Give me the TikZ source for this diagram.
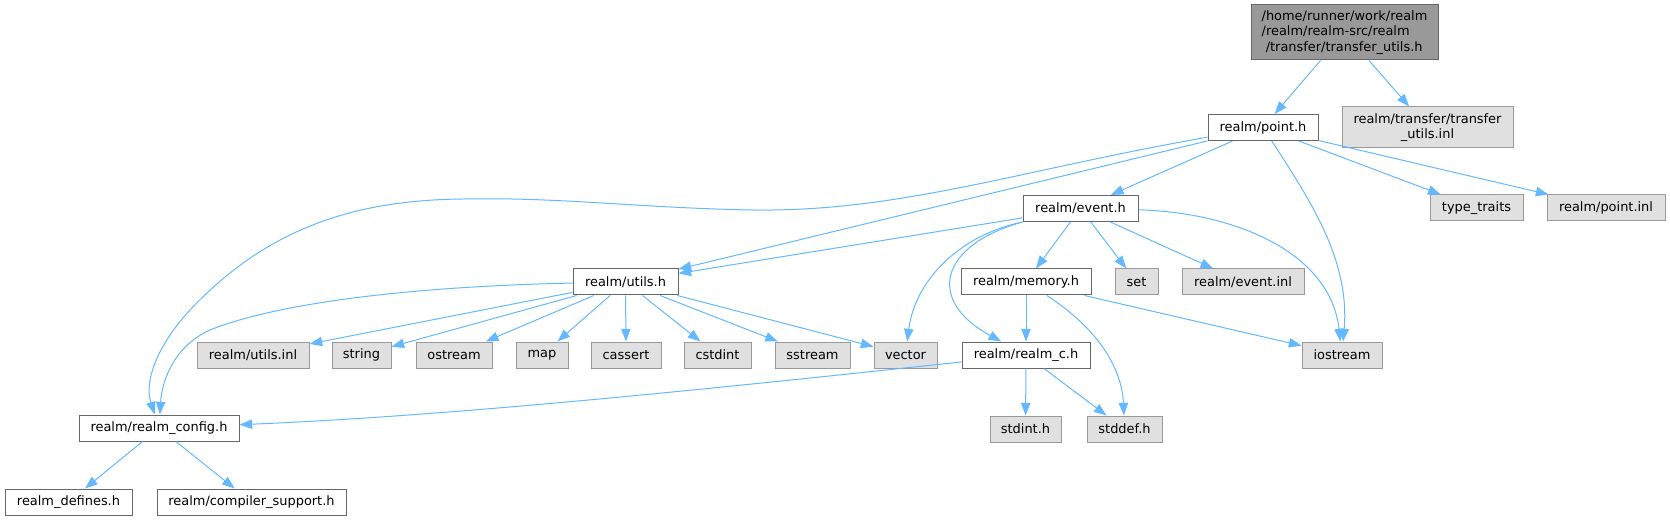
\documentclass[tikz,border=0pt]{standalone}
\usepackage{fontspec}
\setmainfont{DejaVu Sans}
\usetikzlibrary{arrows.meta}

\definecolor{depblue}{HTML}{63B8FF}
\definecolor{hdrline}{HTML}{666666}
\definecolor{sysline}{HTML}{999999}
\definecolor{sysfill}{HTML}{E0E0E0}
\definecolor{curfill}{HTML}{999999}

\begin{document}
\begin{tikzpicture}[x=0.75pt, y=-0.75pt,
    font=\fontsize{9.7}{11.5}\selectfont,
    hdr/.style={draw=hdrline, fill=white, line width=0.75pt, inner sep=0pt, minimum height=19.5pt},
    sys/.style={hdr, draw=sysline, fill=sysfill},
    dep/.style={draw=depblue, line width=0.75pt, -{Triangle[length=9.5pt, width=7pt]}}]

    \useasboundingbox (0,0) rectangle (1670,520);

    % 文件节点
    \node[hdr, fill=curfill, minimum width=140.25pt, minimum height=41.25pt, align=left] (tu) at (1344.5,32.5)
        {/home/runner/work/realm\\/realm/realm-src/realm\\~/transfer/transfer\_utils.h};
    \node[hdr, minimum width=82.5pt] (ph) at (1263,127.5) {realm/point.h};
    \node[sys, minimum width=128.25pt, minimum height=30.75pt, align=center] (tinl) at (1427.5,127.5)
        {realm/transfer/transfer\\\_utils.inl};
    \node[hdr, minimum width=86.25pt] (ev) at (1080.5,208.5) {realm/event.h};
    \node[sys, minimum width=69.75pt] (tt) at (1476.5,208) {type\_traits};
    \node[sys, minimum width=88.5pt] (pinl) at (1606,208) {realm/point.inl};
    \node[hdr, minimum width=78.75pt] (ut) at (625.5,282) {realm/utils.h};
    \node[hdr, minimum width=97.5pt] (me) at (1026,282) {realm/memory.h};
    \node[sys, minimum width=32.25pt] (set) at (1136.5,282) {set};
    \node[sys, minimum width=91.5pt] (einl) at (1243,282) {realm/event.inl};
    \node[sys, minimum width=60pt] (io) at (1342,355) {iostream};
    \node[sys, minimum width=84pt] (uinl) at (253,355) {realm/utils.inl};
    \node[sys, minimum width=44.25pt] (str) at (361.5,355) {string};
    \node[sys, minimum width=57pt] (ostr) at (454,355) {ostream};
    \node[sys, minimum width=39pt] (map) at (542,355) {map};
    \node[sys, minimum width=52.5pt] (cas) at (626,355) {cassert};
    \node[sys, minimum width=50.25pt] (cstd) at (717.5,355) {cstdint};
    \node[sys, minimum width=56.25pt] (sstr) at (812.5,355) {sstream};
    \node[sys, minimum width=47.25pt] (vec) at (905.5,355) {vector};
    \node[hdr, minimum width=96pt] (rc) at (1026,355) {realm/realm\_c.h};
    \node[sys, minimum width=53.25pt] (si) at (1025.5,429) {stdint.h};
    \node[sys, minimum width=56.25pt] (sd) at (1124.5,429) {stddef.h};
    \node[hdr, minimum width=120pt] (cfg) at (159,428) {realm/realm\_config.h};
    \node[hdr, minimum width=95.25pt] (def) at (68.5,502) {realm\_defines.h};
    \node[hdr, minimum width=141.75pt] (cs) at (251.5,502) {realm/compiler\_support.h};

    % 连线
    \draw[dep] (tu) -- (ph);
    \draw[dep] (tu) -- (tinl);
    \foreach \dst in {ev,tt,pinl,ut}
        \draw[dep] (ph) -- (\dst);
    \draw[dep] (ph) .. controls (1310,200) and (1350,260) .. (io);
    \draw[dep] (ph) .. controls (1020,170) and (900,212) .. (753,210)
        .. controls (640,208) and (560,197) .. (463,199)
        .. controls (360,200) and (270,225) .. (190,310)
        .. controls (162,340) and (143,378) .. (cfg);

    \foreach \dst in {ut,me,set,einl}
        \draw[dep] (ev) -- (\dst);
    \draw[dep] (ev.south west) .. controls (960,235) and (915,280) .. (vec);
    \draw[dep] (ev.south west) .. controls (940,245) and (925,300) .. (rc);
    \draw[dep] (ev) .. controls (1230,212) and (1330,250) .. (io);

    \draw[dep] (me) -- (rc);
    \draw[dep] (me) -- (io);
    \draw[dep] (me) .. controls (1100,330) and (1122,370) .. (sd);

    \foreach \dst in {uinl,str,ostr,map,cas,cstd,sstr,vec}
        \draw[dep] (ut) -- (\dst);
    \draw[dep] (ut) .. controls (430,286) and (290,300) .. (215,328)
        .. controls (175,343) and (162,380) .. (cfg);

    \draw[dep] (rc) .. controls (700,390) and (450,416) .. (cfg);
    \draw[dep] (rc) -- (si);
    \draw[dep] (rc) -- (sd);
    \draw[dep] (cfg) -- (def);
    \draw[dep] (cfg) -- (cs);
\end{tikzpicture}
\end{document}
